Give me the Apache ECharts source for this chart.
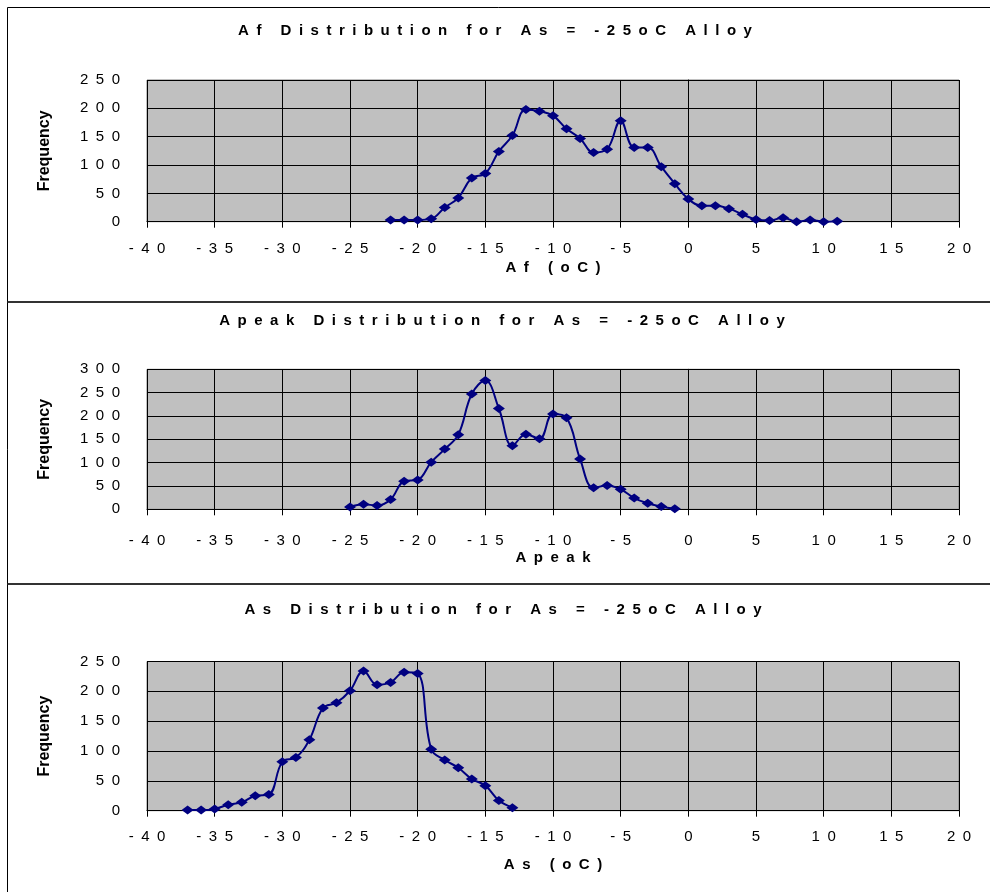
<!DOCTYPE html>
<html><head><meta charset="utf-8">
<script src="https://cdn.jsdelivr.net/npm/echarts@6/dist/echarts.min.js"></script>
<style>html,body{margin:0;padding:0;background:#fff}#c{width:990px;height:892px}</style>
</head><body><div id="c"></div><script>
// ---- data ----
const afX = [-22,-21,-20,-19,-18,-17,-16,-15,-14,-13,-12,-11,-10,-9,-8,-7,-6,-5,-4,-3,-2,-1,0,1,2,3,4,5,6,7,8,9,10,11];
const afY = [3,3,3,5,25,42,77,85,124,152,198,195,187,164,147,122,128,178,131,131,97,67,40,28,28,23,13,4,2,7,0,3,0,1];
const apeakX = [-25,-24,-23,-22,-21,-20,-19,-18,-17,-16,-15,-14,-13,-12,-11,-10,-9,-8,-7,-6,-5,-4,-3,-2,-1];
const apeakY = [5,11,8,21,60,63,101,129,160,247,276,216,136,161,151,204,196,108,46,51,43,24,13,6,1];
const asX = [-37,-36,-35,-34,-33,-32,-31,-30,-29,-28,-27,-26,-25,-24,-23,-22,-21,-20,-19,-18,-17,-16,-15,-14,-13];
const asY = [1,1,3,10,14,25,27,82,89,119,172,181,201,234,211,215,232,230,103,85,72,53,42,17,5];
const titles = ['Af Distribution for As = -25oC Alloy','Apeak Distribution for As = -25oC Alloy','As Distribution for As = -25oC Alloy'];
const xNames = ['Af (oC)','Apeak','As (oC)'];
const yName = 'Frequency';
const xMin = -40, xMax = 20, xStep = 5;
const yMaxes = [250, 300, 250];
const yStep = 50;

// ---- layout ----
const FONT = 'Arial, "Liberation Sans", sans-serif';
const sp = s => String(s).split('').join('\u2002');
const grids = [
  {left:147, right:31, top:80, height:141.7},
  {left:147, right:31, top:369.3, height:140},
  {left:147, right:31, top:661.5, height:149.2}
];
const labelMargins = [20, 24, 19];
const nameGaps = [39, 41, 47];
const titleY = [31, 321, 609.5];
const titleX = [495, 502, 503];
const xs = [afX, apeakX, asX], ys = [afY, apeakY, asY];

const option = {
  animation:false,
  backgroundColor:'#fff',
  grid: grids.map(g => Object.assign({show:true, backgroundColor:'#C0C0C0', borderColor:'#808080', borderWidth:1}, g)),
  xAxis: grids.map((g,i) => ({
    type:'value', gridIndex:i, min:xMin, max:xMax, interval:xStep,
    axisLine:{show:true, onZero:false, lineStyle:{color:'#000', width:1}},
    axisTick:{show:true, inside:false, length:6, lineStyle:{color:'#000'}},
    axisLabel:{margin:labelMargins[i], color:'#000', fontSize:15, fontFamily:FONT, formatter:v=>sp(v)},
    splitLine:{show:true, lineStyle:{color:'#000', width:1}},
    name: sp(xNames[i]), nameLocation:'middle', nameGap:nameGaps[i],
    nameTextStyle:{color:'#000', fontSize:15, fontWeight:'bold', fontFamily:FONT}
  })),
  yAxis: grids.map((g,i) => ({
    type:'value', gridIndex:i, min:0, max:yMaxes[i], interval:yStep,
    axisLine:{show:true, lineStyle:{color:'#000', width:1}},
    axisTick:{show:true, inside:false, length:9, lineStyle:{color:'#000'}},
    axisLabel:{margin:27, color:'#000', fontSize:15, fontFamily:FONT, formatter:v=>sp(v)},
    splitLine:{show:true, lineStyle:{color:'#000', width:1}},
    name: yName, nameLocation:'middle', nameGap:94, nameRotate:90,
    nameTextStyle:{color:'#000', fontSize:16, fontWeight:'bold', fontFamily:FONT}
  })),
  series: xs.map((xa,i) => ({
    type:'line', xAxisIndex:i, yAxisIndex:i, smooth:0.4,
    data: xa.map((x,j)=>[x, ys[i][j]]),
    symbol:'diamond', symbolSize:[12,9],
    lineStyle:{color:'#000080', width:2},
    itemStyle:{color:'#000080'}
  })),
  graphic: [
    {type:'line', shape:{x1:7.5,y1:7.5,x2:990,y2:7.5}, style:{stroke:'#000', lineWidth:1}},
    {type:'line', shape:{x1:7.5,y1:7.5,x2:7.5,y2:892}, style:{stroke:'#000', lineWidth:1}},
    {type:'line', shape:{x1:7.5,y1:302,x2:990,y2:302}, style:{stroke:'#333', lineWidth:2}},
    {type:'line', shape:{x1:7.5,y1:584,x2:990,y2:584}, style:{stroke:'#333', lineWidth:2}},
    ...titles.map((t,i) => ({type:'text', x:titleX[i], y:titleY[i],
      style:{text:sp(t), fill:'#000', font:'bold 15px '+FONT, textAlign:'center', textVerticalAlign:'middle'}}))
  ]
};
const chart = echarts.init(document.getElementById('c'), null, {renderer:'canvas'});
chart.setOption(option);
</script></body></html>
